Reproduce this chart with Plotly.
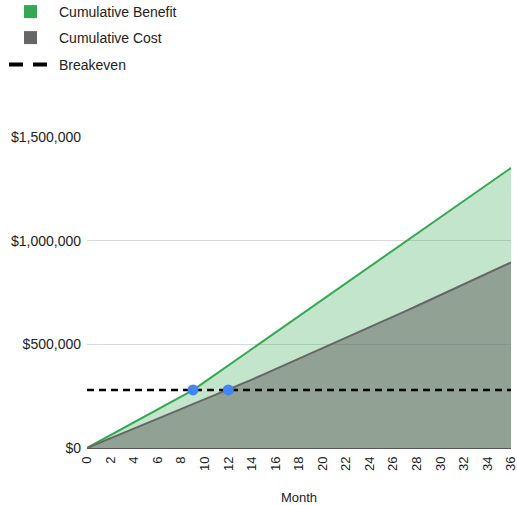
import numpy as np
import plotly.graph_objects as go

# Monthly amounts (USD) for months 1..36
months = list(range(0, 37))
monthly_benefit = [31000] * 9 + [39700] * 27
monthly_cost = [23333] * 12 + [25000] * 12 + [26250] * 12

breakeven_value = 280000
breakeven_months = [9, 12]

y_ticks = [0, 500000, 1000000, 1500000]
y_tick_labels = ["$0", "$500,000", "$1,000,000", "$1,500,000"]
x_ticks = list(range(0, 37, 2))

cum_benefit = np.concatenate([[0], np.cumsum(monthly_benefit)])
cum_cost = np.concatenate([[0], np.cumsum(monthly_cost)])

GREEN = "#34a853"
GREY = "#666666"
FONT = "Liberation Sans, Arial, sans-serif"
TEXT = "#222222"

fig = go.Figure()

# Area traces
fig.add_trace(go.Scatter(
    x=months, y=cum_benefit, mode="lines", fill="tozeroy",
    line=dict(color=GREEN, width=2), fillcolor="rgba(52,168,83,0.3)",
    showlegend=False, hoverinfo="skip"))
fig.add_trace(go.Scatter(
    x=months, y=cum_cost, mode="lines", fill="tozeroy",
    line=dict(color=GREY, width=2), fillcolor="rgba(102,102,102,0.53)",
    showlegend=False, hoverinfo="skip"))

# Breakeven line
fig.add_trace(go.Scatter(
    x=[months[0], months[-1]], y=[breakeven_value, breakeven_value],
    mode="lines", line=dict(color="black", width=2.5, dash="7px,5px"),
    showlegend=False))

# Breakeven crossing points
fig.add_trace(go.Scatter(
    x=breakeven_months, y=[breakeven_value] * len(breakeven_months),
    mode="markers", marker=dict(color="#4285f4", size=11),
    showlegend=False))

# Legend entries
fig.add_trace(go.Scatter(
    x=[None], y=[None], mode="markers", name="Cumulative Benefit",
    marker=dict(symbol="square", size=13, color=GREEN), legend="legend"))
fig.add_trace(go.Scatter(
    x=[None], y=[None], mode="markers", name="Cumulative Cost",
    marker=dict(symbol="square", size=13, color=GREY), legend="legend2"))
fig.add_trace(go.Scatter(
    x=[None], y=[None], mode="lines", name="Breakeven",
    line=dict(color="black", width=4, dash="0px,2px,14px,10px,14px,30px"),
    legend="legend3"))

legend_common = dict(
    xref="container", yref="container", xanchor="left", yanchor="middle",
    font=dict(family=FONT, size=14, color=TEXT),
    bgcolor="rgba(0,0,0,0)", itemwidth=47)

fig.update_layout(
    width=517, height=505,
    margin=dict(l=87, r=6, t=137, b=57, autoexpand=False),
    paper_bgcolor="white", plot_bgcolor="white",
    font=dict(family=FONT, size=13, color=TEXT),
    legend=dict(x=2 / 517, y=1 - 12 / 505, **legend_common),
    legend2=dict(x=2 / 517, y=1 - 38 / 505, **legend_common),
    legend3=dict(x=2 / 517, y=1 - 65 / 505, **legend_common),
    xaxis=dict(
        range=[0, 36], tickvals=x_ticks, tickangle=-90,
        showgrid=False, zeroline=False, showline=False, automargin=False,
        ticks="", ticklabeloverflow="allow", ticklabelstandoff=5,
        tickfont=dict(family=FONT, size=13, color=TEXT),
        title=dict(text="Month", font=dict(family=FONT, size=13, color=TEXT),
                   standoff=30)),
    yaxis=dict(
        range=[0, 1500000], tickvals=y_ticks, ticktext=y_tick_labels,
        showgrid=True, gridcolor="#d9d9d9", gridwidth=1, automargin=False,
        zeroline=True, zerolinecolor="#555555", zerolinewidth=1,
        ticks="", ticklabelstandoff=5,
        tickfont=dict(family=FONT, size=14, color=TEXT)),
)

fig.write_html("out.html")
